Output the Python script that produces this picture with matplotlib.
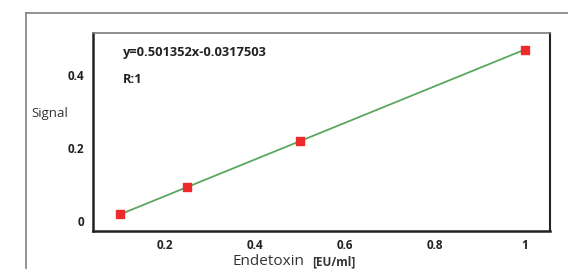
import matplotlib.pyplot as plt
from matplotlib.lines import Line2D

plt.rcParams['font.family'] = ['Open Sans', 'DejaVu Sans']

conc = [0.1, 0.25, 0.5, 1.0]
signal = [0.0184, 0.0936, 0.2189, 0.4696]
xticks = [0.2, 0.4, 0.6, 0.8, 1.0]
xlabels = ['0.2', '0.4', '0.6', '0.8', '1']
yticks = [0, 0.2, 0.4]
ylabels = ['0', '0.2', '0.4']
equation = 'y=0.501352x-0.0317503'
r_text = 'R:1'

W, H = 568, 269
fig = plt.figure(figsize=(W / 100, H / 100), dpi=100)

# outer frame (left + top only)
fig.add_artist(Line2D([25.5 / W, 25.5 / W], [0, 1 - 13 / H], color='#808080', lw=1.2))
fig.add_artist(Line2D([25.5 / W, 1], [1 - 13 / H, 1 - 13 / H], color='#808080', lw=1.2))

ax = fig.add_axes([93 / W, 1 - 231 / H, (550 - 93) / W, (231 - 33) / H])
ax.plot(conc, signal, color='#5aa85e', lw=1.3, zorder=2)
ax.plot(conc, signal, ls='none', marker='s', ms=6, color='#ee2a2a', zorder=3)

ax.set_xlim(0.04, 1.056)
ax.set_ylim(-0.027, 0.515)
ax.set_xticks(xticks, xlabels)
ax.set_yticks(yticks, ylabels)
ax.tick_params(length=0, labelsize=8.5, pad=6)
for lab in ax.get_xticklabels() + ax.get_yticklabels():
    lab.set_fontweight('bold')
    lab.set_color('#222222')

ax.spines['left'].set_linewidth(1.8)
ax.spines['bottom'].set_linewidth(1.8)
ax.spines['left'].set_color('#222222')
ax.spines['bottom'].set_color('#222222')
ax.spines['top'].set_color('#7a7a7a')
ax.spines['top'].set_linewidth(1.2)
ax.spines['right'].set_color('#222222')
ax.spines['right'].set_linewidth(1.5)

ax.text(0.065, 0.9, equation, transform=ax.transAxes, fontsize=9.3,
        fontweight='bold', color='#222222', va='center')
ax.text(0.065, 0.765, r_text, transform=ax.transAxes, fontsize=9.3,
        fontweight='bold', color='#222222', va='center')

fig.text(31 / W, 1 - 114 / H, 'Signal', fontsize=9.5, color='#333333', va='center')
fig.text(233 / W, 1 - 265 / H, 'Endetoxin', fontsize=11, color='#333333', va='baseline')
fig.text(312 / W, 1 - 265 / H, '[EU/ml]', fontsize=8.5, fontweight='bold',
         color='#333333', va='baseline')

fig.savefig('out.png', dpi=100)
